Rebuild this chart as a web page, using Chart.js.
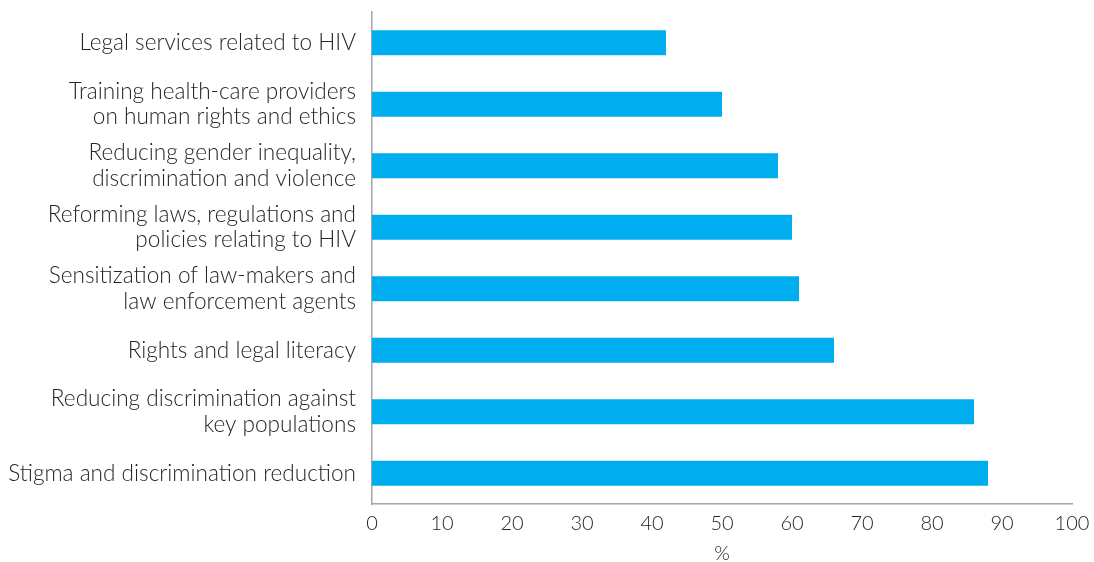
<!DOCTYPE html>
<html>
<head>
<meta charset="utf-8">
<script src="https://cdn.jsdelivr.net/npm/chart.js@4"></script>
<style>
  html, body { margin: 0; padding: 0; background: #fff; }
  #wrap { width: 1094px; height: 562px; position: relative; }
</style>
</head>
<body>
<div id="wrap"><canvas id="chart"></canvas></div>
<script>
// ── Data
const categories = [
  'Legal services related to HIV',
  ['Training health-care providers', 'on human rights and ethics'],
  ['Reducing gender inequality,', 'discrimination and violence'],
  ['Reforming laws, regulations and', 'policies relating to HIV'],
  ['Sensitization of law-makers and', 'law enforcement agents'],
  'Rights and legal literacy',
  ['Reducing discrimination against', 'key populations'],
  'Stigma and discrimination reduction'
];
const percentValues = [42, 50, 58, 60, 61, 66, 86, 88];
const xTicks = [0, 10, 20, 30, 40, 50, 60, 70, 80, 90, 100];

const FONT = 'Lato, "Noto Sans", sans-serif';
const TEXT = '#262626';

new Chart(document.getElementById('chart'), {
  type: 'bar',
  data: {
    labels: categories,
    datasets: [{
      data: percentValues,
      backgroundColor: '#00aeef',
      categoryPercentage: 1,
      barPercentage: 0.41
    }]
  },
  options: {
    indexAxis: 'y',
    responsive: true,
    maintainAspectRatio: false,
    animation: false,
    layout: { padding: 0 },
    plugins: { legend: { display: false }, tooltip: { enabled: false } },
    scales: {
      x: {
        min: 0,
        max: 100,
        afterBuildTicks: s => { s.ticks = xTicks.map(v => ({ value: v })); },
        grid: { display: false, drawTicks: false },
        border: { display: true, color: '#a6a6a6', width: 1.5 },
        ticks: { color: TEXT, padding: 8, font: { family: FONT, size: 20, weight: 300 } },
        title: { display: true, text: '%', color: TEXT, padding: { top: 6, bottom: -4 }, font: { family: FONT, size: 20, weight: 300 } },
        // pin the plot's bottom edge and right margin
        afterFit: s => { s.height = 58; s.paddingLeft = 0; s.paddingRight = 22; }
      },
      y: {
        grid: { display: false, drawTicks: false },
        border: { display: true, color: '#a6a6a6', width: 1.5 },
        ticks: { color: TEXT, padding: 16, font: { family: FONT, size: 22.6, weight: 300, lineHeight: 1.12 } },
        afterFit: s => { s.width = 372; s.paddingTop = 12; s.paddingBottom = 0; }
      }
    }
  }
});
</script>
</body>
</html>
